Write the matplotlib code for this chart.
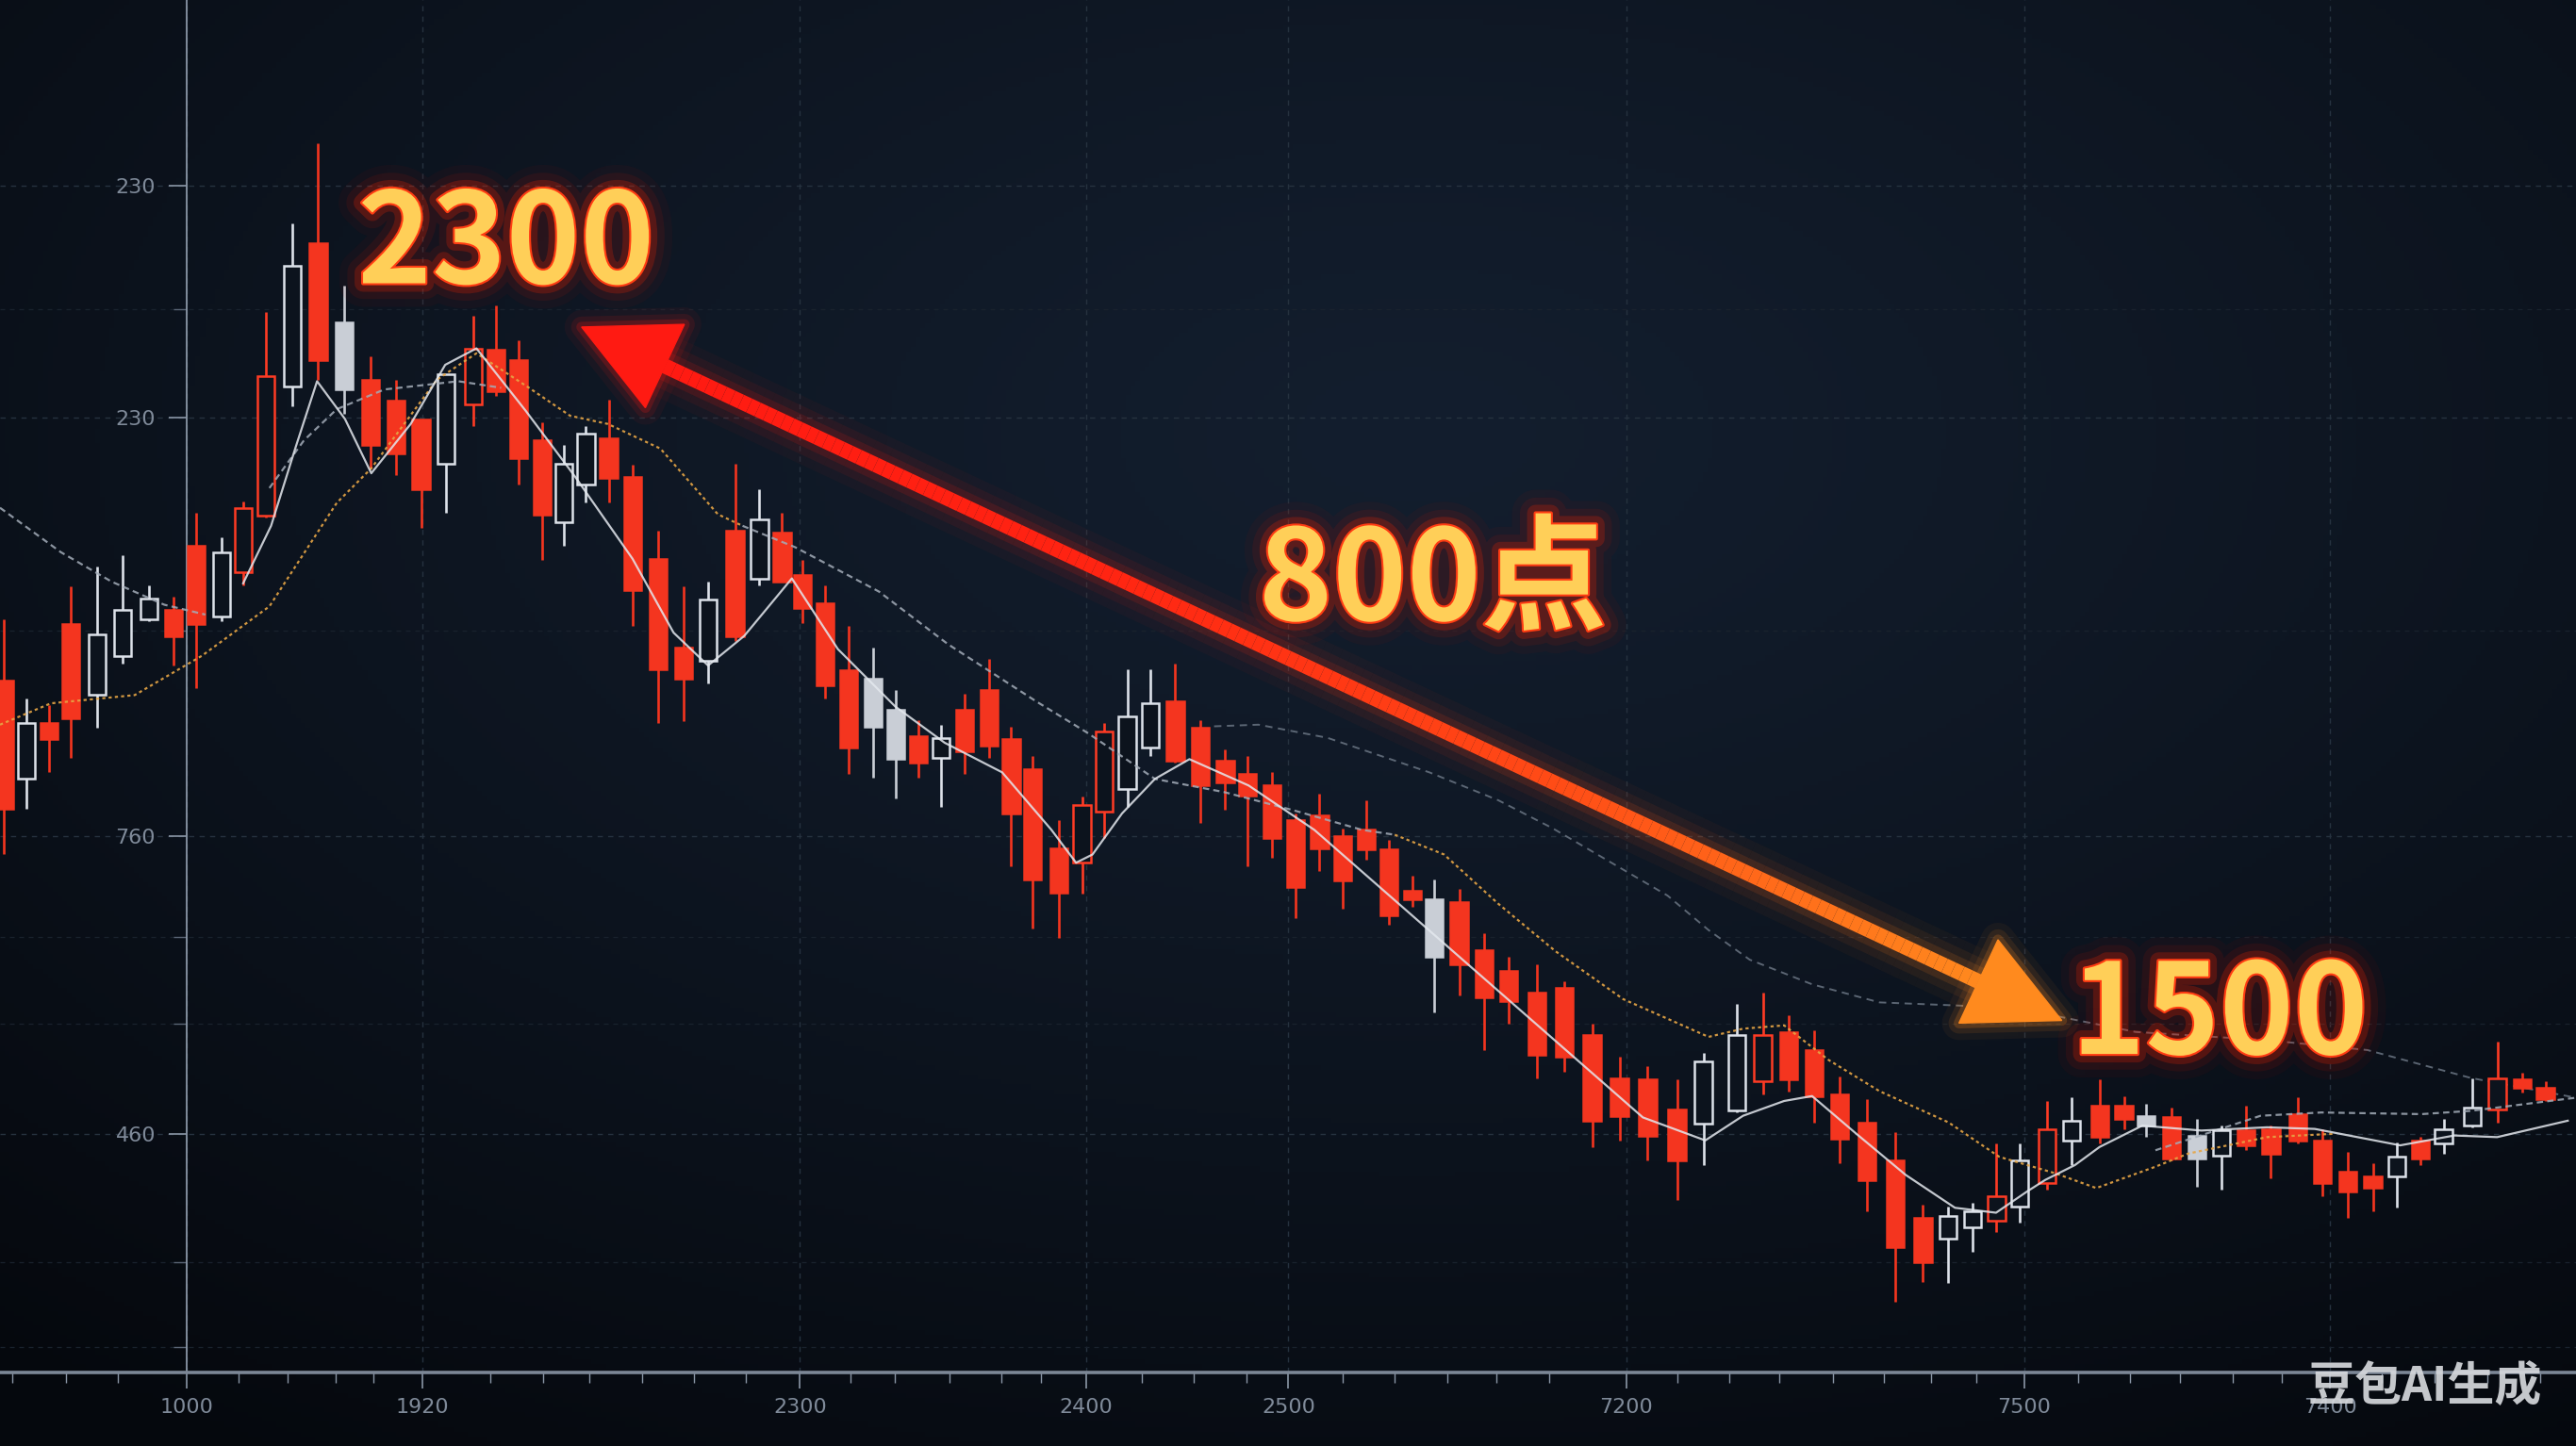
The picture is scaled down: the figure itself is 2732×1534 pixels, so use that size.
import numpy as np
import matplotlib
matplotlib.use("Agg")
import matplotlib.pyplot as plt
import matplotlib.patheffects as pe
from matplotlib.collections import LineCollection
from matplotlib.colors import LinearSegmentedColormap
from matplotlib.patches import Polygon

# ---- candles: time position, kind (R red filled, r red hollow, W grey filled, w white hollow)
t = [2.5, 16, 29.7, 43, 59, 74.8, 90.8, 105.6, 119.5, 134.9,
     148, 162, 178, 193.7, 209.5, 225.5, 240.9, 256.3, 271.6, 288,
     302, 315.7, 330.1, 343.4, 356.7, 370.5, 385.2, 400.8, 416, 431,
     447.4, 462.3, 476, 488.4, 502.3, 516.6, 531.4, 545.3, 559.1, 572.8,
     587.2, 602.1, 615.5, 628.5, 644.6, 658.6, 672.2, 686.2, 700.3, 715.4,
     730.6, 745.8, 759.4, 774.4, 788.4, 803.2, 817.2, 831.8, 845.4, 859.6,
     873.1, 888.2, 903.4, 918.4, 935.5, 952, 969.1, 985.8, 1002.9, 1020.8,
     1036.9, 1057.2, 1073, 1088.7, 1104.3, 1119.8, 1136.4, 1153.8, 1170.5, 1185.7,
     1200.7, 1215.3, 1229.5, 1246.2, 1261.1, 1278.1, 1292.8, 1306.4, 1321.7, 1337.3,
     1352, 1367, 1382.3, 1398.5, 1413.5, 1429.2, 1444.4, 1459.1, 1473.3, 1487.4,
     1505, 1520.1, 1535.3, 1549.4]
kind = ("RwRRwwwRRw" "rrwRWRRRwr" "RRRwwRRRRw" "RwRRRRWWRw" "RRRRRrrwwR"
        "RRRRRRRRRR" "WRRRRRRRRR" "wwrRRRRRRw" "wrwrwRRWRW" "wRRRRRRwRw" "wrRR")
high = [2023, 1975, 1971, 2043, 2055, 2062, 2044, 2037, 2088, 2073,
        2095, 2210, 2264, 2313, 2226, 2183, 2169, 2145, 2172, 2208,
        2214, 2193, 2143, 2129, 2141, 2157, 2117, 2077, 2043, 2046,
        2118, 2102, 2088, 2059, 2044, 2019, 2006, 1980, 1962, 1959,
        1978, 1999, 1958, 1940, 1901, 1915, 1960, 1993, 1993, 1996,
        1962, 1944, 1940, 1930, 1905, 1917, 1896, 1913, 1889, 1867,
        1865, 1859, 1832, 1818, 1813, 1803, 1777, 1757, 1751, 1743,
        1759, 1789, 1796, 1782, 1773, 1745, 1731, 1711, 1667, 1666,
        1668, 1704, 1704, 1730, 1732, 1743, 1733, 1728, 1726, 1719,
        1715, 1727, 1715, 1732, 1713, 1699, 1692, 1705, 1708, 1719,
        1744, 1766, 1747, 1742]
body_hi = [1986, 1960, 1960, 2020, 2014, 2029, 2036, 2029, 2068, 2064,
           2091, 2171, 2238, 2252, 2204, 2169, 2156, 2145, 2172, 2188,
           2187, 2181, 2132, 2118, 2136, 2133, 2110, 2060, 2006, 2035,
           2077, 2084, 2076, 2050, 2033, 1992, 1987, 1968, 1952, 1951,
           1968, 1980, 1950, 1932, 1884, 1910, 1955, 1964, 1972, 1973,
           1957, 1937, 1929, 1922, 1901, 1904, 1891, 1895, 1883, 1858,
           1853, 1851, 1822, 1809, 1796, 1799, 1770, 1744, 1743, 1725,
           1754, 1770, 1770, 1772, 1761, 1734, 1717, 1694, 1659, 1660,
           1663, 1672, 1694, 1713, 1718, 1727, 1727, 1721, 1720, 1709,
           1712, 1712, 1713, 1722, 1706, 1687, 1684, 1696, 1706, 1713,
           1726, 1744, 1743, 1738]
body_lo = [1908, 1926, 1950, 1963, 1977, 2001, 2023, 2013, 2020, 2025,
           2052, 2086, 2165, 2181, 2163, 2129, 2124, 2102, 2118, 2154,
           2162, 2121, 2087, 2082, 2105, 2109, 2041, 1993, 1987, 1998,
           2013, 2048, 2046, 2030, 1983, 1945, 1958, 1938, 1936, 1939,
           1943, 1946, 1905, 1865, 1857, 1875, 1906, 1920, 1945, 1937,
           1922, 1924, 1916, 1890, 1860, 1884, 1864, 1883, 1843, 1853,
           1818, 1813, 1793, 1791, 1758, 1757, 1718, 1721, 1709, 1694,
           1716, 1724, 1742, 1743, 1733, 1707, 1682, 1641, 1632, 1646,
           1653, 1657, 1666, 1680, 1706, 1708, 1719, 1715, 1695, 1695,
           1697, 1703, 1698, 1706, 1680, 1675, 1677, 1684, 1695, 1704,
           1715, 1725, 1738, 1731]
low = [1880, 1908, 1930, 1939, 1957, 1996, 2022, 1995, 1981, 2022,
       2044, 2085, 2153, 2169, 2148, 2115, 2111, 2079, 2088, 2141,
       2159, 2105, 2059, 2068, 2094, 2094, 2019, 1960, 1961, 1984,
       2010, 2044, 2046, 2021, 1975, 1929, 1927, 1914, 1927, 1909,
       1929, 1939, 1873, 1835, 1829, 1856, 1890, 1909, 1940, 1936,
       1899, 1907, 1873, 1878, 1841, 1870, 1847, 1877, 1837, 1848,
       1784, 1794, 1761, 1777, 1744, 1748, 1702, 1706, 1694, 1670,
       1691, 1723, 1734, 1736, 1717, 1692, 1663, 1608, 1620, 1619,
       1638, 1650, 1656, 1676, 1691, 1704, 1713, 1708, 1694, 1678,
       1676, 1700, 1683, 1704, 1672, 1659, 1663, 1665, 1691, 1698,
       1714, 1717, 1735, 1730]

# ---- moving average traces (nan = line not visible)
nan = np.nan
ma_fast_t = [148, 165, 180, 193, 210, 226, 250, 271, 290, 320, 350, 385, 410, 431, 453, 482,
             510, 545, 575, 610, 640, 655, 665, 683, 703, 724, 760, 800, 840, 880, 920, 960,
             1000, 1038, 1061, 1086, 1103, 1130, 1160, 1190, 1215, 1234, 1245, 1263, 1278,
             1304, 1340, 1380, 1409, 1461, 1494, 1520, 1563]
ma_fast_v = [2045, 2080, 2128, 2168, 2145, 2112, 2142, 2178, 2188, 2150, 2110, 2060, 2015, 1995,
             2013, 2048, 2005, 1970, 1948, 1930, 1895, 1875, 1880, 1905, 1926, 1938, 1922, 1895,
             1860, 1825, 1790, 1755, 1720, 1706, 1721, 1730, 1733, 1710, 1685, 1665, 1662, 1675,
             1682, 1691, 1702, 1715, 1712, 1714, 1713, 1703, 1709, 1708, 1718]
ma_mid_t = [0, 37, 68, 100, 125, 130, 164, 185, 205, 234, 279, 305, 310,
            452, 484, 535, 577, 631, 662, 703, 745, 787, 829, 849, 850,
            1312, 1376, 1413, 1474, 1504, 1568]
ma_mid_v = [2091, 2064, 2046, 2032, 2026, nan, 2103, 2132, 2151, 2163, 2168, 2164, nan,
            2080, 2067, 2040, 2008, 1973, 1954, 1926, 1918, 1907, 1895, 1892, nan,
            1700, 1721, 1723, 1722, 1724, 1732]
ma_slow_t = [0, 31, 82, 123, 164, 205, 226, 266, 290, 322, 347, 370, 402, 437, 452, 460,
             849, 879, 912, 947, 988, 1040, 1061, 1086, 1113, 1144, 1186, 1217, 1251, 1276,
             1312, 1332, 1380, 1420]
ma_slow_v = [1959, 1972, 1977, 2001, 2031, 2094, 2115, 2169, 2185, 2164, 2147, 2142, 2127,
             2087, 2080, nan, 1892, 1880, 1850, 1821, 1792, 1769, 1774, 1776, 1755, 1736,
             1717, 1696, 1686, 1677, 1690, 1698, 1708, 1710]
ma_long_t = [739, 766, 808, 870, 912, 945, 1015, 1040, 1065, 1103, 1144, 1194, 1250,
             1300, 1380, 1441, 1504, 1568]
ma_long_v = [1958, 1959, 1951, 1930, 1913, 1896, 1855, 1834, 1816, 1801, 1790, 1788, 1782,
             1772, 1767, 1761, 1744, 1732]

# ---- axis ticks as printed in the picture
x_ticks = [113.8, 257.3, 486.9, 661.2, 784.2, 990, 1232, 1418.3]
x_labels = ["1000", "1920", "2300", "2400", "2500", "7200", "7500", "7400"]
x_minor = [7.7, 40, 71.8, 145, 175.3, 204.5, 227, 298.3, 330.6, 358.8, 390.6, 422.3,
           454.1, 517.7, 544.8, 578.2, 609.4, 633.5, 695, 726.8, 758.6, 817.4, 848.6,
           880.8, 911, 942.7, 1020.8, 1052.5, 1083.2, 1115.9, 1146.6, 1175.4, 1202.7,
           1264.7, 1296.4, 1327.1, 1358.8, 1389, 1450, 1482, 1514, 1546]
y_ticks = [2287, 2146, 1891, 1710]
y_labels = ["230", "230", "760", "460"]
y_minor = [2212, 2016, 1830, 1777, 1632, 1580]

# ---- annotations
peak_text, peak_pos = "2300", (308, 2250)
drop_text, drop_pos = "800点", (872, 2045)
low_text, low_pos = "1500", (1351, 1781)
arrow_from = (354, 2201)
arrow_to = (1255, 1779)

# ---------------------------------------------------------------- figure
fig = plt.figure(figsize=(27.32, 15.34), dpi=100)
fig.patch.set_facecolor("#080c13")

# background glow
bg = fig.add_axes([0, 0, 1, 1], zorder=-5)
yy, xx = np.mgrid[0:1:300j, 0:1:540j]
r = np.clip(np.sqrt(((xx - 0.55) / 0.85) ** 2 + ((yy - 0.3) / 0.85) ** 2), 0, 1)
inner = np.array([0x13, 0x1e, 0x2e]) / 255
outer = np.array([0x05, 0x08, 0x0d]) / 255
bg.imshow(inner + (outer - inner) * r[..., None] ** 1.2, extent=[0, 1, 0, 1],
          aspect="auto", origin="upper")
bg.set_axis_off()

ax = fig.add_axes([0, 0.0511, 1, 0.9489])
ax.set_facecolor("none")
ax.set_xlim(0, 1568)
ax.set_ylim(1565, 2400)

tick_col = "#8a96a6"
ax.spines["top"].set_visible(False)
ax.spines["right"].set_visible(False)
ax.spines["left"].set_position(("data", 113.8))
ax.spines["left"].set_color(tick_col)
ax.spines["left"].set_linewidth(1.3)
ax.spines["bottom"].set_color("#7c8796")
ax.spines["bottom"].set_linewidth(2.6)

ax.set_xticks(x_ticks, x_labels)
ax.set_xticks(x_minor, minor=True)
ax.set_yticks(y_ticks, y_labels)
ax.set_yticks(y_minor, minor=True)
ax.tick_params(axis="x", which="major", length=12, width=1.2, color=tick_col,
               labelcolor="#7f8a99", labelsize=16, pad=8)
ax.tick_params(axis="x", which="minor", length=8, width=1.0, color=tick_col)
ax.tick_params(axis="y", which="major", length=14, width=1.2, color=tick_col,
               labelcolor="#7f8a99", labelsize=16, pad=10)
ax.tick_params(axis="y", which="minor", length=10, width=1.0, color="#5a6575")
ax.set_axisbelow(True)
ax.grid(True, which="major", color="#26323f", lw=1.0, ls=(0, (4, 4)))
ax.grid(True, which="minor", axis="y", color="#19222d", lw=0.9, ls=(0, (4, 4)))

# ---------------------------------------------------------------- candles
colors = {"R": "#f4351f", "r": "#ff3b24", "W": "#c9ced6", "w": "#dde2ea"}
edge = [colors[k] for k in kind]
face = [colors[k] if k in "RW" else "#0c131d" for k in kind]
body_h = np.array(body_hi) - np.array(body_lo)

ax.vlines(t, low, high, colors=edge, lw=1.9, zorder=3)
ax.bar(t, body_h, bottom=body_lo, width=10.5, color=face, edgecolor=edge,
       linewidth=1.8, zorder=4)

# ---------------------------------------------------------------- moving averages
ax.plot(ma_long_t, ma_long_v, color="#6f7a88", lw=1.4, ls=(0, (4, 3)), alpha=0.8, zorder=2.5)
ax.plot(ma_slow_t, ma_slow_v, color="#e6a545", lw=1.6, ls=(0, (1.5, 1.5)), alpha=0.9, zorder=4.5)
ax.plot(ma_mid_t, ma_mid_v, color="#a3acb8", lw=1.6, ls=(0, (3, 2)), alpha=0.85, zorder=4.5)
ax.plot(ma_fast_t, ma_fast_v, color="#e4e8ee", lw=1.6, alpha=0.85, zorder=4.6)

# ---------------------------------------------------------------- double arrow
p1 = np.array(arrow_from, float)
p2 = np.array(arrow_to, float)
u = (p2 - p1) / np.hypot(*(p2 - p1))
n = np.array([-u[1], u[0]])
head_len, head_w = 56, 56
s0 = p1 + u * head_len * 0.8
s1 = p2 - u * head_len * 0.8
N = 160
pts = s0 + np.outer(np.linspace(0, 1, N + 1), s1 - s0)
segs = np.stack([pts[:-1], pts[1:]], axis=1)
cmap = LinearSegmentedColormap.from_list("arr", ["#ff1a12", "#ff2412", "#ff4a16", "#ff8a1e"])
seg_cols = cmap(np.linspace(0, 1, N))
for lw, a in [(48, 0.04), (34, 0.07), (22, 0.13)]:
    c = seg_cols.copy()
    c[:, 3] = a
    ax.add_collection(LineCollection(segs, colors=c, linewidths=lw, capstyle="butt", zorder=6))
ax.add_collection(LineCollection(segs, colors=seg_cols, linewidths=11.5, capstyle="butt", zorder=6.2))

for tip, dirv, col in [(p1, u, "#ff1a12"), (p2, -u, "#ff8a1e")]:
    tri = [tip, tip + dirv * head_len + n * head_w / 2, tip + dirv * head_len - n * head_w / 2]
    for lw, a in [(26, 0.05), (16, 0.1), (8, 0.2)]:
        ax.add_patch(Polygon(tri, closed=True, facecolor="none", edgecolor=col,
                             lw=lw, alpha=a, joinstyle="round", zorder=6))
    ax.add_patch(Polygon(tri, closed=True, facecolor=col, edgecolor=col, lw=1,
                         zorder=6.3))

# ---------------------------------------------------------------- glowing labels
glow = [pe.Stroke(linewidth=36, foreground=(0.8, 0.06, 0.0, 0.05)),
        pe.Stroke(linewidth=24, foreground=(0.9, 0.10, 0.0, 0.09)),
        pe.Stroke(linewidth=13, foreground=(1.0, 0.15, 0.0, 0.22)),
        pe.Stroke(linewidth=3, foreground="#ff3c12"),
        pe.Normal()]
for txt, pos in [(peak_text, peak_pos), (drop_text, drop_pos), (low_text, low_pos)]:
    ax.text(pos[0], pos[1], txt, ha="center", va="center", fontsize=96,
            family=["Noto Sans CJK SC", "DejaVu Sans"], weight="bold",
            color="#ffcf58", path_effects=glow, zorder=8)

# watermark (sits over the last axis label, as in the source image)
fig.text(0.9413, 0.041, "豆包AI生成", ha="center", va="center", fontsize=36,
         family=["Noto Sans CJK SC", "DejaVu Sans"], weight="bold",
         color="#d6d8dc", alpha=0.92, zorder=10)

fig.savefig("out.png", dpi=100, facecolor=fig.get_facecolor())
